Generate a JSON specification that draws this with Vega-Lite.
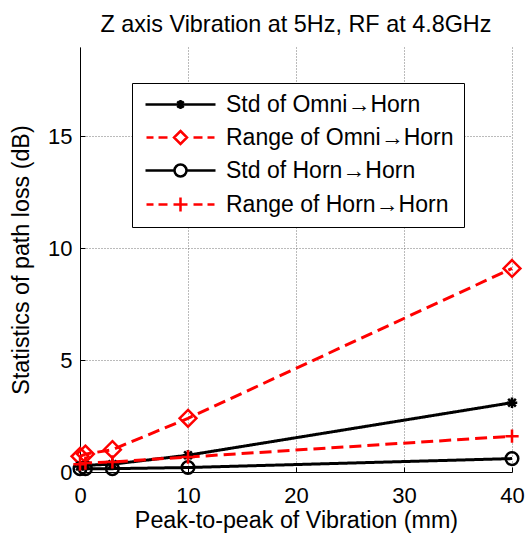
{
  "$schema": "https://vega.github.io/schema/vega-lite/v6.json",
  "width": 432,
  "height": 425,
  "autosize": {"type": "none"},
  "padding": {"left": 80, "top": 47, "right": 13, "bottom": 64},
  "background": "white",
  "title": {"text": "Z axis Vibration at 5Hz, RF at 4.8GHz", "font": "Liberation Sans", "fontSize": 23.4, "fontWeight": "normal", "color": "black", "offset": 10, "anchor": "middle"},
  "data": {"values": [
    {"x": 0, "y": 0.25, "series": "Std of Omni→Horn"},
    {"x": 0.5, "y": 0.3, "series": "Std of Omni→Horn"},
    {"x": 3, "y": 0.35, "series": "Std of Omni→Horn"},
    {"x": 10, "y": 0.75, "series": "Std of Omni→Horn"},
    {"x": 40, "y": 3.1, "series": "Std of Omni→Horn"},
    {"x": 0, "y": 0.7, "series": "Range of Omni→Horn"},
    {"x": 0.5, "y": 0.8, "series": "Range of Omni→Horn"},
    {"x": 3, "y": 1.0, "series": "Range of Omni→Horn"},
    {"x": 10, "y": 2.4, "series": "Range of Omni→Horn"},
    {"x": 40, "y": 9.1, "series": "Range of Omni→Horn"},
    {"x": 0, "y": 0.15, "series": "Std of Horn→Horn"},
    {"x": 0.5, "y": 0.15, "series": "Std of Horn→Horn"},
    {"x": 3, "y": 0.15, "series": "Std of Horn→Horn"},
    {"x": 10, "y": 0.2, "series": "Std of Horn→Horn"},
    {"x": 40, "y": 0.6, "series": "Std of Horn→Horn"},
    {"x": 0, "y": 0.35, "series": "Range of Horn→Horn"},
    {"x": 0.5, "y": 0.4, "series": "Range of Horn→Horn"},
    {"x": 3, "y": 0.45, "series": "Range of Horn→Horn"},
    {"x": 10, "y": 0.67, "series": "Range of Horn→Horn"},
    {"x": 40, "y": 1.6, "series": "Range of Horn→Horn"}
  ]},
  "encoding": {
    "x": {"field": "x", "type": "quantitative", "scale": {"domain": [0, 40], "nice": false, "zero": false},
      "axis": {"values": [0, 10, 20, 30, 40], "title": "Peak-to-peak of Vibration (mm)", "labelPadding": 18, "titlePadding": 3, "labelFlush": false}},
    "y": {"field": "y", "type": "quantitative", "scale": {"domain": [0, 19], "nice": false},
      "axis": {"values": [0, 5, 10, 15], "title": "Statistics of path loss (dB)", "labelPadding": 13, "titlePadding": 14}}
  },
  "layer": [
    {
      "mark": {"type": "line", "strokeWidth": 3},
      "encoding": {
        "color": {"field": "series", "type": "nominal", "legend": null,
          "scale": {"domain": ["Std of Omni→Horn", "Range of Omni→Horn", "Std of Horn→Horn", "Range of Horn→Horn"], "range": ["black", "red", "black", "red"]}},
        "strokeDash": {"field": "series", "type": "nominal", "legend": null,
          "scale": {"domain": ["Std of Omni→Horn", "Range of Omni→Horn", "Std of Horn→Horn", "Range of Horn→Horn"], "range": [[1, 0], [12, 6], [1, 0], [12, 6]]}}
      }
    },
    {
      "mark": {"type": "point", "filled": false, "strokeWidth": 2.5, "size": 196, "opacity": 1},
      "encoding": {
        "color": {"field": "series", "type": "nominal", "legend": null,
          "scale": {"domain": ["Std of Omni→Horn", "Range of Omni→Horn", "Std of Horn→Horn", "Range of Horn→Horn"], "range": ["black", "red", "black", "red"]}},
        "shape": {"field": "series", "type": "nominal", "legend": null,
          "scale": {"domain": ["Std of Omni→Horn", "Range of Omni→Horn", "Std of Horn→Horn", "Range of Horn→Horn"],
            "range": [
              "M-0.75,0H0.75M0,-0.75V0.75M-0.55,-0.55L0.55,0.55M-0.55,0.55L0.55,-0.55",
              "M0,-1.2L1.2,0L0,1.2L-1.2,0Z",
              "M0.9,0A0.9,0.9,0,1,1,-0.9,0A0.9,0.9,0,1,1,0.9,0Z",
              "M-0.95,0H0.95M0,-0.95V0.95"
            ]}}
      }
    },
    {
      "mark": {"type": "point", "filled": false, "strokeWidth": 2.5, "opacity": 0},
      "encoding": {
        "color": {"field": "series", "type": "nominal",
          "scale": {"domain": ["Std of Omni→Horn", "Range of Omni→Horn", "Std of Horn→Horn", "Range of Horn→Horn"], "range": ["black", "red", "black", "red"]},
          "legend": {"title": null}},
        "shape": {"field": "series", "type": "nominal",
          "scale": {"domain": ["Std of Omni→Horn", "Range of Omni→Horn", "Std of Horn→Horn", "Range of Horn→Horn"],
            "range": [
              "M-3.5,0H3.5M-0.45,0H0.45M0,-0.45V0.45M-0.32,-0.32L0.32,0.32M-0.32,0.32L0.32,-0.32",
              "M-3.4,0H-2.7M-2.2,0H-1.3M1.3,0H2.2M2.7,0H3.4M0,-0.65L0.65,0L0,0.65L-0.65,0Z",
              "M-3.5,0H-0.6M0.6,0H3.5M0.6,0A0.6,0.6,0,1,1,-0.6,0A0.6,0.6,0,1,1,0.6,0",
              "M-3.4,0H-2.7M-2.2,0H-1.3M1.3,0H2.2M2.7,0H3.4M-0.7,0H0.7M0,-0.7V0.7"
            ]},
          "legend": {"title": null}}
      }
    }
  ],
  "resolve": {"scale": {"shape": "independent", "color": "independent"}},
  "config": {
    "view": {"stroke": null},
    "axis": {"labelFont": "Liberation Sans", "labelFontSize": 22, "labelColor": "black", "titleFont": "Liberation Sans", "titleFontSize": 23.3, "titleFontWeight": "normal", "titleColor": "black", "domainColor": "black", "domainWidth": 1, "tickColor": "black", "tickSize": -5, "tickWidth": 1, "gridColor": "#777777", "gridDash": [1, 2], "gridWidth": 1, "gridOpacity": 1},
    "legend": {"orient": "none", "legendX": 52, "legendY": 36, "symbolSize": 400, "symbolStrokeWidth": 2.5, "symbolOffset": 27, "labelOffset": 34, "padding": 10, "rowPadding": 9, "labelFont": "Liberation Sans", "labelFontSize": 23, "labelColor": "black", "labelLimit": 400, "strokeColor": "black", "fillColor": "white", "symbolOpacity": 1, "symbolFillColor": "transparent"}
  }
}
